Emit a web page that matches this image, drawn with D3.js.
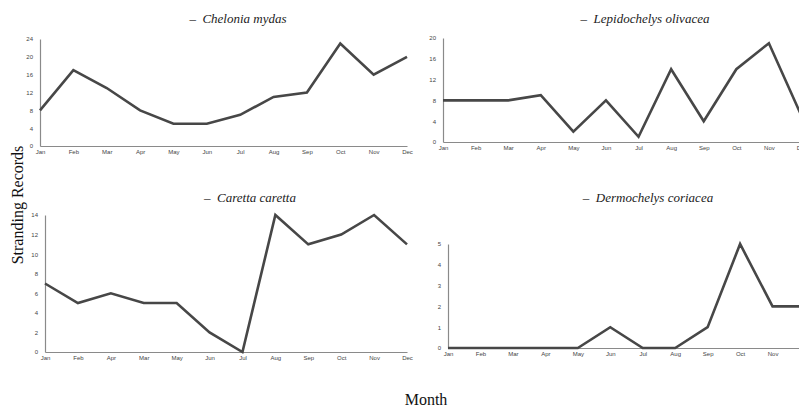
<!DOCTYPE html>
<html><head><meta charset="utf-8">
<script src="https://cdn.jsdelivr.net/npm/d3@7/dist/d3.min.js"></script>
<style>
html,body{margin:0;padding:0;background:#fff;}
svg{display:block;}
</style></head>
<body>
<svg id="c" width="799" height="407"></svg>
<script>
const months = ["Jan","Feb","Mar","Apr","May","Jun","Jul","Aug","Sep","Oct","Nov","Dec"];
const monthsCaretta = ["Jan","Feb","Apr","Mar","May","Jun","Jul","Aug","Sep","Oct","Nov","Dec"];
const chelonia = [8,17,13,8,5,5,7,11,12,23,16,20];
const lepidochelys = [8,8,8,9,2,8,1,14,4,14,19,5];
const caretta = [7,5,6,5,5,2,0,14,11,12,14,11];
const dermochelys = [0,0,0,0,0,1,0,0,1,5,2,2];
const titles = ["Chelonia mydas","Lepidochelys olivacea","Caretta caretta","Dermochelys coriacea"];
const yTicks1 = [0,4,8,12,16,20,24];
const yTicks2 = [0,4,8,12,16,20];
const yTicks3 = [0,2,4,6,8,10,12,14];
const yTicks4 = [0,1,2,3,4,5];

const svg = d3.select("#c");
const panels = [
  {cats:months, vals:chelonia, title:titles[0], ticks:yTicks1, x0:40, x1:407, y0:146, y1:39, tx:238, ty:23},
  {cats:months, vals:lepidochelys, title:titles[1], ticks:yTicks2, x0:443, x1:801.5, y0:142, y1:38, tx:645, ty:23},
  {cats:monthsCaretta, vals:caretta, title:titles[2], ticks:yTicks3, x0:45, x1:407, y0:352, y1:215, tx:250, ty:202},
  {cats:months, vals:dermochelys, title:titles[3], ticks:yTicks4, x0:448, x1:805, y0:348, y1:244, tx:648, ty:202}
];

panels.forEach(p => {
  const g = svg.append("g");
  const x = d3.scalePoint().domain(p.cats).range([p.x0, p.x1]);
  const y = d3.scaleLinear().domain([0, d3.max(p.ticks)]).range([p.y0, p.y1]);

  const ya = g.append("g").attr("transform", `translate(${p.x0},0)`)
    .call(d3.axisLeft(y).tickValues(p.ticks).tickFormat(d3.format("d")).tickSize(0).tickPadding(7));
  ya.select(".domain").attr("stroke","#8a8a8a").attr("stroke-width",1.2);
  ya.selectAll("text").attr("font-family","Liberation Sans, Arial, sans-serif").attr("font-size",6).attr("fill","#444");

  const xa = g.append("g").attr("transform", `translate(0,${p.y0})`)
    .call(d3.axisBottom(x).tickSize(0).tickPadding(4));
  xa.select(".domain").attr("stroke","#8a8a8a").attr("stroke-width",1.2);
  xa.selectAll("text").attr("font-family","Liberation Sans, Arial, sans-serif").attr("font-size",6).attr("fill","#444");

  const line = d3.line().x((d,i)=>x(p.cats[i])).y(d=>y(d));
  g.append("path").datum(p.vals).attr("d", line)
    .attr("fill","none").attr("stroke","#474747").attr("stroke-width",2.6)
    .attr("stroke-linejoin","miter");

  const t = g.append("text").attr("x", p.tx).attr("y", p.ty).attr("text-anchor","middle")
    .attr("font-family","Liberation Serif, Times New Roman, serif").attr("font-size",13).attr("fill","#222");
  t.append("tspan").text("\u2013\u00a0\u00a0");
  t.append("tspan").attr("font-style","italic").text(p.title);
});

svg.append("text").attr("transform","translate(23,205) rotate(-90)").attr("text-anchor","middle")
  .attr("font-family","Liberation Serif, Times New Roman, serif").attr("font-size",16).attr("fill","#111")
  .text("Stranding Records");
svg.append("text").attr("x",426).attr("y",405).attr("text-anchor","middle")
  .attr("font-family","Liberation Serif, Times New Roman, serif").attr("font-size",16).attr("fill","#111")
  .text("Month");
</script>
</body></html>
